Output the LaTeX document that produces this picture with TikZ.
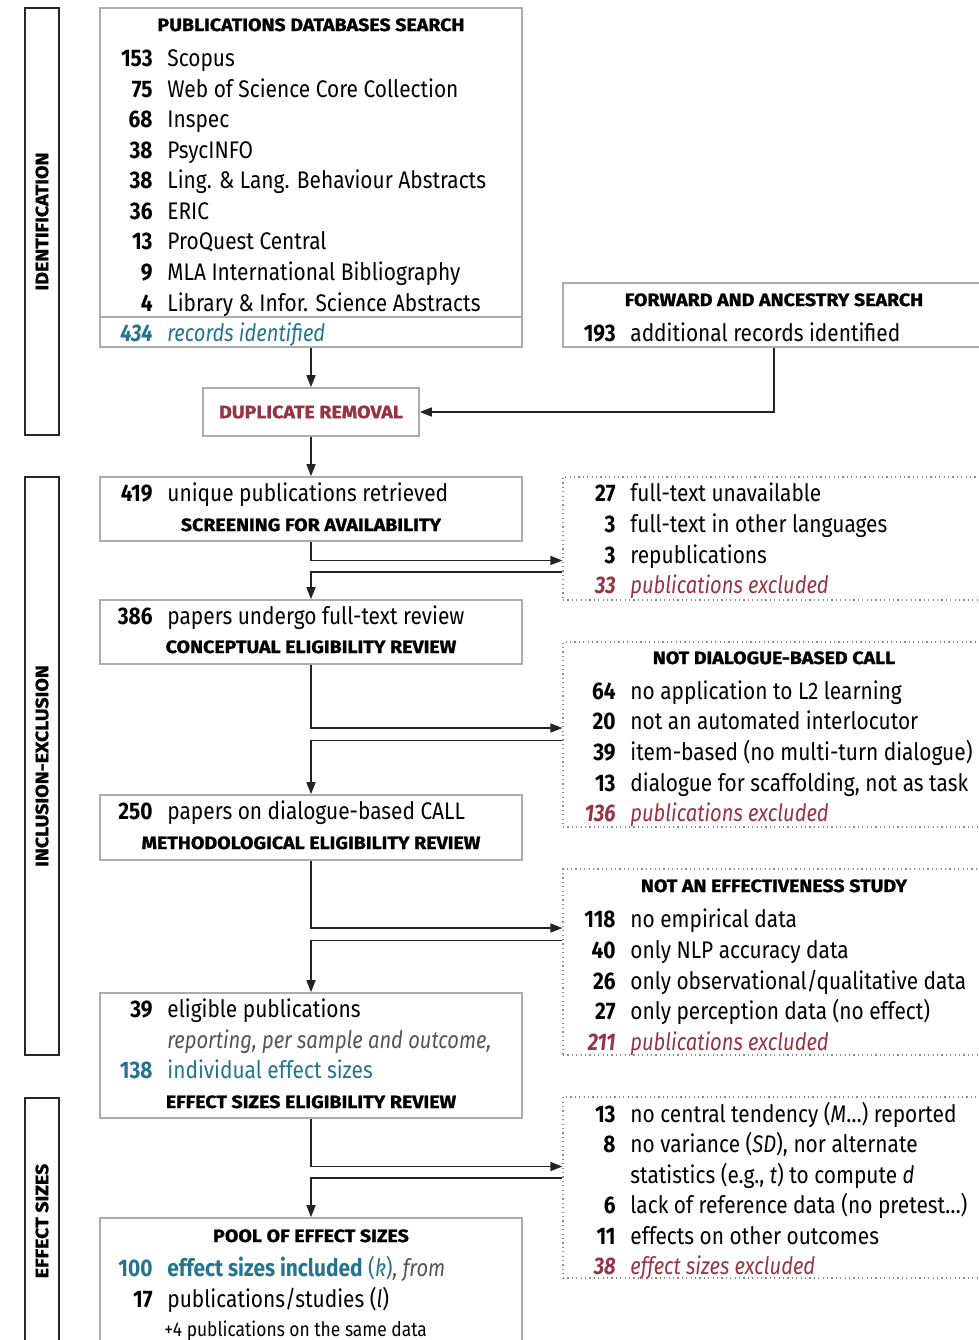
\documentclass[tikz,border=0pt]{standalone}
\usepackage{fontspec}
\setmainfont{Fira Sans}[FakeStretch=0.87, ItalicFeatures={FakeStretch=0.84}, BoldItalicFeatures={FakeStretch=0.84}]
\newfontfamily\headfont{Fira Sans}[FakeStretch=1.1, BoldFeatures={FakeBold=1.2}]
\usetikzlibrary{fit,calc,arrows.meta}
\definecolor{hiteal}{RGB}{36,116,144}
\definecolor{exred}{RGB}{150,52,68}
\definecolor{boxgray}{RGB}{172,172,172}
\definecolor{dotgray}{RGB}{140,140,140}
\definecolor{linec}{RGB}{35,35,35}
\definecolor{notegray}{RGB}{85,85,85}
\begin{document}
\fontsize{12}{14}\selectfont
\begin{tikzpicture}[x=0.5pt,y=-0.5pt,
  box/.style={draw=boxgray, line width=0.8pt, inner sep=0pt, rectangle},
  exbox/.style={draw=dotgray, line width=0.6pt, dash pattern=on 0.6pt off 1.6pt, inner sep=0pt, rectangle},
  secbox/.style={draw=black!85, line width=0.8pt, inner sep=0pt, rectangle},
  conn/.style={draw=linec, line width=0.75pt},
  arr/.style={conn, -{Triangle[length=6pt,width=4.5pt]}},
  num/.style={anchor=base east, inner sep=0pt, font=\bfseries},
  txt/.style={anchor=base west, inner sep=0pt},
  head/.style={anchor=base, inner sep=0pt, font=\headfont\fontsize{8.9}{10}\selectfont\bfseries},
  sec/.style={rotate=90, inner sep=0pt, font=\headfont\fontsize{8.9}{10}\selectfont\bfseries},
]
\useasboundingbox (0,0) rectangle (979,1340);
\clip (0,0) rectangle (979,1340);

% ---- section bars ----
\node[secbox, fit={(25,8)(59,435)}] (sid) {};
\node[sec] (sidt) at (sid.center) {IDENTIFICATION};
\node[secbox, fit={(25,477)(59,1055)}] (sinc) {};
\node[sec] (sinct) at (sinc.center) {INCLUSION-EXCLUSION};
\node[secbox, fit={(25,1098)(59,1344)}] (seff) {};
\node[sec] (sefft) at (seff.center) {EFFECT SIZES};

% ---- boxes ----
\node[box, fit={(100,8)(522,347)}] (dbs) {};
\draw[draw=boxgray, line width=0.8pt] (dbs.west |- 0,317) -- (dbs.east |- 0,317);
\node[box, fit={(563,283)(985,347)}] (fwd) {};
\node[box, fit={(203,388)(419,436)}] (dup) {};
\node[box, fit={(100,477)(522,541)}] (b419) {};
\node[box, fit={(100,600)(522,664)}] (b386) {};
\node[box, fit={(100,795)(522,860)}] (b250) {};
\node[box, fit={(100,993)(522,1118)}] (b39) {};
\node[box, fit={(100,1218)(522,1400)}] (pool) {};
\node[exbox, fit={(563,477)(985,600)}] (exA) {};
\node[exbox, fit={(563,642)(985,827)}] (exB) {};
\node[exbox, fit={(563,869)(985,1055)}] (exC) {};
\node[exbox, fit={(563,1097)(985,1278)}] (exD) {};

% ---- databases search ----
\node[head] (h1) at (311,31) {PUBLICATIONS DATABASES SEARCH};
\node[num] (n1) at (153,66.5) {153}; \node[txt] (t1) at (167,66.5) {Scopus};
\node[num] (n2) at (153,97) {75};    \node[txt] (t2) at (167,97) {Web of Science Core Collection};
\node[num] (n3) at (153,127.5) {68}; \node[txt] (t3) at (167,127.5) {Inspec};
\node[num] (n4) at (153,158) {38};   \node[txt] (t4) at (167,158) {PsycINFO};
\node[num] (n5) at (153,188.5) {38}; \node[txt] (t5) at (167,188.5) {Ling. \& Lang. Behaviour Abstracts};
\node[num] (n6) at (153,219) {36};   \node[txt] (t6) at (167,219) {ERIC};
\node[num] (n7) at (153,249.5) {13}; \node[txt] (t7) at (167,249.5) {ProQuest Central};
\node[num] (n8) at (153,280.5) {9};  \node[txt] (t8) at (167,280.5) {MLA International Bibliography};
\node[num] (n9) at (153,311) {4};    \node[txt] (t9) at (167,311) {Library \& Infor. Science Abstracts};
\node[num, text=hiteal, font=\bfseries\itshape] (n10) at (153,341.5) {434};
\node[txt, text=hiteal, font=\itshape] (t10) at (167,341.5) {records identified};

% ---- forward search ----
\node[head] (h2) at (774,306) {FORWARD AND ANCESTRY SEARCH};
\node[num] (n11) at (616,341.5) {193}; \node[txt] (t11) at (630,341.5) {additional records identified};

% ---- duplicate removal ----
\node[head, anchor=center, text=exred] (h3) at (dup.center) {DUPLICATE REMOVAL};

% ---- screening ----
\node[num] (n12) at (153,501.5) {419}; \node[txt] (t12) at (167,501.5) {unique publications retrieved};
\node[head] (h4) at (311,531) {SCREENING FOR AVAILABILITY};
\node[num] (n13) at (616,501.5) {27}; \node[txt] (t13) at (630,501.5) {full-text unavailable};
\node[num] (n14) at (616,532.5) {3};  \node[txt] (t14) at (630,532.5) {full-text in other languages};
\node[num] (n15) at (616,563.5) {3};  \node[txt] (t15) at (630,563.5) {republications};
\node[num, text=exred, font=\bfseries\itshape] (n16) at (616,593.5) {33};
\node[txt, text=exred, font=\itshape] (t16) at (630,593.5) {publications excluded};

% ---- conceptual review ----
\node[num] (n17) at (153,624.5) {386}; \node[txt] (t17) at (167,624.5) {papers undergo full-text review};
\node[head] (h5) at (311,653) {CONCEPTUAL ELIGIBILITY REVIEW};
\node[head] (h6) at (774,664) {NOT DIALOGUE-BASED CALL};
\node[num] (n18) at (616,699.5) {64}; \node[txt] (t18) at (630,699.5) {no application to L2 learning};
\node[num] (n19) at (616,729.5) {20}; \node[txt] (t19) at (630,729.5) {not an automated interlocutor};
\node[num] (n20) at (616,760.5) {39}; \node[txt] (t20) at (630,760.5) {item-based (no multi-turn dialogue)};
\node[num] (n21) at (616,791.5) {13}; \node[txt] (t21) at (630,791.5) {dialogue for scaffolding, not as task};
\node[num, text=exred, font=\bfseries\itshape] (n22) at (616,821.5) {136};
\node[txt, text=exred, font=\itshape] (t22) at (630,821.5) {publications excluded};

% ---- methodological review ----
\node[num] (n23) at (153,819.5) {250}; \node[txt] (t23) at (167,819.5) {papers on dialogue-based CALL};
\node[head] (h7) at (311,849) {METHODOLOGICAL ELIGIBILITY REVIEW};
\node[head] (h8) at (774,892) {NOT AN EFFECTIVENESS STUDY};
\node[num] (n24) at (616,927.5) {118}; \node[txt] (t24) at (630,927.5) {no empirical data};
\node[num] (n25) at (616,958.5) {40};  \node[txt] (t25) at (630,958.5) {only NLP accuracy data};
\node[num] (n26) at (616,989.5) {26};  \node[txt] (t26) at (630,989.5) {only observational/qualitative data};
\node[num] (n27) at (616,1019.5) {27}; \node[txt] (t27) at (630,1019.5) {only perception data (no effect)};
\node[num, text=exred, font=\bfseries\itshape] (n28) at (616,1050.5) {211};
\node[txt, text=exred, font=\itshape] (t28) at (630,1050.5) {publications excluded};

% ---- effect sizes review ----
\node[num] (n29) at (153,1017.5) {39}; \node[txt] (t29) at (167,1017.5) {eligible publications};
\node[txt, text=notegray, font=\itshape] (t30) at (167,1048.5) {reporting, per sample and outcome,};
\node[num, text=hiteal] (n31) at (153,1078.5) {138};
\node[txt, text=hiteal] (t31) at (167,1078.5) {individual effect sizes};
\node[head] (h9) at (311,1108) {EFFECT SIZES ELIGIBILITY REVIEW};
\node[num] (n32) at (616,1122.5) {13}; \node[txt] (t32) at (630,1122.5) {no central tendency (\textit{M}…) reported};
\node[num] (n33) at (616,1152.5) {8};  \node[txt] (t33) at (630,1152.5) {no variance (\textit{SD}), nor alternate};
\node[txt] (t34) at (630,1183.5) {statistics (e.g., \textit{t}) to compute \textit{d}};
\node[num] (n35) at (616,1213.5) {6};  \node[txt] (t35) at (630,1213.5) {lack of reference data (no pretest…)};
\node[num] (n36) at (616,1244.5) {11}; \node[txt] (t36) at (630,1244.5) {effects on other outcomes};
\node[num, text=exred, font=\bfseries\itshape] (n37) at (616,1274.5) {38};
\node[txt, text=exred, font=\itshape] (t37) at (630,1274.5) {effect sizes excluded};

% ---- pool ----
\node[head] (h10) at (311,1242) {POOL OF EFFECT SIZES};
\node[num, text=hiteal] (n38) at (153,1276.5) {100};
\node[txt] (t38) at (167,1276.5) {\textcolor{hiteal}{\bfseries effect sizes included} \textcolor{hiteal}{(\textit{k})}\textcolor{notegray}{\itshape , from}};
\node[num] (n39) at (153,1307.5) {17}; \node[txt] (t39) at (167,1307.5) {publications/studies (\textit{l})};
\node[txt, font=\fontsize{10}{11}\selectfont] (t40) at (164,1336) {+4 publications on the same data};

% ---- connectors ----
\draw[arr] (dbs.south) -- (dup.north);
\draw[arr] (fwd.south) |- (dup.east);
\draw[arr] (dup.south) -- (b419.north);
\draw[arr] (b419.south) |- ($(exA.west)+(0,22)$);
\draw[arr] ($(exA.west)+(0,33.5)$) -| (b386.north);
\draw[arr] (b386.south) |- ($(exB.west)+(0,-6.5)$);
\draw[arr] ($(exB.west)+(0,6)$) -| (b250.north);
\draw[arr] (b250.south) |- ($(exC.west)+(0,-34)$);
\draw[arr] ($(exC.west)+(0,-21.5)$) -| (b39.north);
\draw[arr] (b39.south) |- ($(exD.west)+(0,-21)$);
\draw[arr] ($(exD.west)+(0,-9.5)$) -| (pool.north);
\end{tikzpicture}
\end{document}
